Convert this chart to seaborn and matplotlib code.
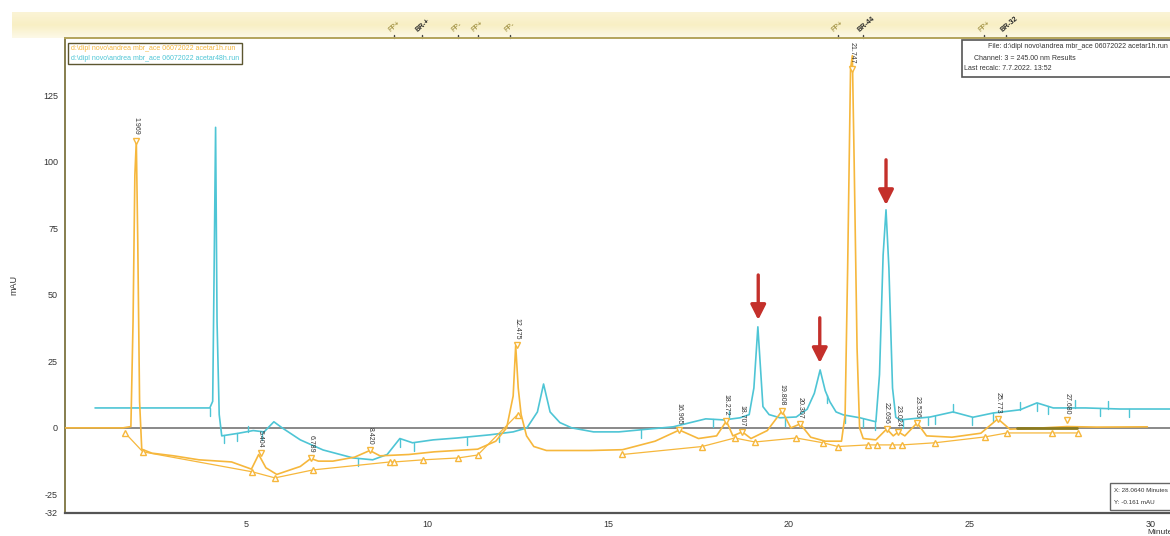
import matplotlib
matplotlib.use("Agg")
import matplotlib.pyplot as plt
import matplotlib.transforms as mtransforms
from matplotlib.patches import Rectangle
import seaborn as sns
import numpy as np
import pandas as pd

sns.set_style("white")
plt.rcParams['font.family'] = ['Liberation Sans', 'DejaVu Sans']

ORANGE = '#f6b73c'
CYAN = '#4ec5d5'
OLIVE = '#7d7440'
RED = '#c4302b'

# run acetar1h (orange): (minutes, mAU)
trace_1h = [(0, 0), (1.6, 0), (1.82, 0.5), (1.88, 40), (1.93, 95), (1.97, 108), (2.01, 70),
            (2.06, 10), (2.12, -8), (2.4, -9.5), (3.0, -10.5), (3.7, -12), (4.6, -12.8),
            (5.15, -15.5), (5.35, -10), (5.55, -15), (5.85, -17.5), (6.5, -14.5), (6.79, -11.5),
            (7.0, -12.5), (7.4, -12.5), (8.0, -11), (8.42, -8.5), (8.7, -10.5), (9.5, -10),
            (10.2, -9), (11.4, -8), (11.9, -5), (12.2, 0), (12.38, 12), (12.45, 31), (12.52, 15),
            (12.6, 5), (12.75, -3), (12.95, -7), (13.3, -8.5), (14.5, -8.5), (15.4, -8.2),
            (16.3, -5), (16.97, -0.8), (17.5, -4), (18.0, -3), (18.27, 2.6), (18.45, -3),
            (18.71, -1.5), (18.95, -4), (19.4, -1), (19.81, 6.4), (20.05, 0), (20.31, 1.5),
            (20.6, -3.5), (21.0, -5), (21.45, -5), (21.55, 5), (21.62, 60), (21.7, 135),
            (21.75, 140), (21.8, 100), (21.88, 30), (21.95, 0), (22.05, -4), (22.4, -4.5),
            (22.7, -0.4), (22.88, -3), (23.02, -1.5), (23.2, -3), (23.54, 1.9), (23.8, -3),
            (24.5, -3.5), (25.3, -2), (25.77, 3.4), (26.1, -0.5), (27.0, 0), (27.68, 0.5),
            (28.5, 0.3), (29.9, 0.4)]

# run acetar48h (cyan)
trace_48h = [(0.83, 7.5), (4.0, 7.5), (4.08, 10), (4.12, 60), (4.16, 113), (4.2, 40),
             (4.26, 5), (4.33, -3), (4.8, -2), (5.2, -1), (5.5, -1.5), (5.77, 2.3), (6.0, 0),
             (6.5, -4.5), (7.13, -8.3), (7.96, -11.3), (8.5, -12), (8.9, -10), (9.25, -4),
             (9.6, -5.6), (10.17, -4.5), (10.83, -3.8), (11.74, -2.6), (12.38, -1.5),
             (12.76, 0), (13.05, 6), (13.22, 16.5), (13.4, 6), (13.67, 2), (14.0, 0),
             (14.6, -1.5), (15.3, -1.5), (15.88, -0.75), (16.8, 0.4), (17.7, 3.4), (18.2, 3),
             (18.65, 3.8), (18.9, 5), (19.03, 15), (19.14, 38), (19.28, 8), (19.45, 5),
             (19.75, 3.8), (20.2, 4.1), (20.5, 7), (20.7, 13), (20.86, 21.8), (21.0, 14),
             (21.13, 9.8), (21.3, 6), (21.5, 4.9), (21.96, 3.8), (22.4, 2.3), (22.5, 20),
             (22.6, 65), (22.68, 82), (22.76, 60), (22.86, 15), (22.95, 4), (23.07, 3),
             (23.9, 4.1), (24.53, 6), (25.08, 4), (25.64, 5.6), (26.38, 6.8), (26.85, 9.4),
             (27.3, 7.5), (28.2, 7.5), (29.14, 7.1), (30.6, 7.1)]

# integration event ticks on the 48h trace (minutes, length in mAU)
ticks_48h = [(4.0, -3), (4.4, -3), (4.75, -3), (5.05, 2), (5.45, -3), (8.1, -3), (9.25, -3),
             (9.65, -3), (11.1, -3), (12.0, -3), (15.9, -3), (17.9, -3), (18.35, 3), (19.9, -3),
             (21.05, -3), (21.55, -3), (22.05, -3), (22.38, -3), (23.15, -3), (23.84, -3),
             (24.03, -3), (24.53, 3), (25.06, -3), (25.64, -3), (26.38, 3), (26.85, -3),
             (27.15, -3), (27.9, 3), (28.6, -3), (28.8, 3), (29.4, -3)]

# labelled peaks of the 1h run
peak_rt = [1.969, 5.404, 6.789, 8.420, 12.475, 16.965, 18.272, 18.707, 19.808, 20.307,
           21.747, 22.696, 23.024, 23.536, 25.773, 27.680]
peak_mau = [108, -9.5, -11.3, -8.3, 31, -0.75, 2.6, -1.5, 6.4, 1.5, 135, -0.4, -1.5, 1.9, 3.4, 3.0]

# baseline points of the 1h run (nan breaks the tie line)
base_t = [1.66, 2.15, 5.17, 5.8, 6.85, 8.98, 9.1, 9.9, 10.86, 11.4, 12.5, np.nan, 15.4, 17.6,
          18.5, 19.06, 20.2, 20.94, 21.35, 22.18, 22.43, 22.85, 23.12, 24.03, 25.41, 26.02,
          27.27, 27.98]
base_mau = [-1.9, -9, -16.5, -18.8, -15.8, -12.8, -12.8, -12, -11.3, -10.2, 5, np.nan, -10, -7,
            -3.8, -5.3, -3.8, -5.6, -7, -6.4, -6.4, -6.4, -6.4, -5.6, -3.4, -1.9, -1.9, -1.9]

# flat baseline segment drawn dark near the end of the 1h run
flat_base_t = [26.3, 27.95]

# timed events shown in the top bar
event_t = [9.1, 9.85, 10.85, 11.4, 12.3, 21.35, 22.05, 25.4, 26.0]
event_lbl = ['FP+', 'BR-+', 'FP-', 'FP+', 'FP-', 'FP+', 'BR-44', 'FP+', 'BR-32']
event_dark = [False, True, False, False, False, False, True, False, True]

# red arrows (minutes, tail mAU, tip mAU)
arrow_rt = [19.15, 20.85, 22.68]
arrow_tail = [57.5, 41.4, 100.8]
arrow_tip = [40.6, 24.4, 83.8]

yticks = [-32, -25, 0, 25, 50, 75, 100, 125]
xticks = [5, 10, 15, 20, 25, 30]

df1 = pd.DataFrame(trace_1h, columns=['min', 'mAU'])
df48 = pd.DataFrame(trace_48h, columns=['min', 'mAU'])

W, H = 1170, 536
fig = plt.figure(figsize=(W / 100, H / 100), dpi=100)

# top event bar with light yellow gradient
band = fig.add_axes([12 / W, (H - 38) / H, 1 - 12 / W, 26 / H])
grad = np.linspace(0, 1, 50).reshape(-1, 1)
band.imshow(grad, aspect='auto', cmap=matplotlib.colors.LinearSegmentedColormap.from_list(
    'bar', ['#fbf4d6', '#f8efc4', '#fdf9e8']), extent=[0, 1, 0, 1])
band.axis('off')

ax = fig.add_axes([65 / W, 23 / H, 1 - 65 / W, (513 - 38) / H])
ax.set_facecolor('white')

ax.axhline(0, color='#808080', lw=1.3, zorder=1)

sns.lineplot(data=df1, x='min', y='mAU', ax=ax, color=ORANGE, lw=1.2, sort=False,
             estimator=None, label='d:\\dipl novo\\andrea mbr_ace 06072022 acetar1h.run', zorder=3)
sns.lineplot(data=df48, x='min', y='mAU', ax=ax, color=CYAN, lw=1.2, sort=False,
             estimator=None, label='d:\\dipl novo\\andrea mbr_ace 06072022 acetar48h.run', zorder=2)

# event ticks on the cyan trace
for t, ln in ticks_48h:
    v = np.interp(t, df48['min'], df48['mAU'])
    ax.plot([t, t], [v, v + ln], color=CYAN, lw=1.0, zorder=2)

# baseline tie line and markers
ax.plot(base_t, base_mau, color=ORANGE, lw=0.9, zorder=3)
ax.plot(base_t, base_mau, ls='none', marker='^', ms=5, mfc='white', mec=ORANGE, mew=1.0, zorder=4)
ax.plot(flat_base_t, [0, 0], color='#8a7a20', lw=2.0, zorder=3)

# peak apex markers + retention time labels
ax.plot(peak_rt, peak_mau, ls='none', marker='v', ms=5, mfc='white', mec=ORANGE, mew=1.0, zorder=4)
for rt, v in zip(peak_rt, peak_mau):
    ax.annotate(f'{rt:.3f}', xy=(rt, v), xytext=(0, 4), textcoords='offset points',
                rotation=-90, ha='center', va='bottom', fontsize=5, color='#333333')

for t, a, b in zip(arrow_rt, arrow_tail, arrow_tip):
    ax.annotate('', xy=(t, b), xytext=(t, a),
                arrowprops=dict(arrowstyle='-|>,head_length=0.75,head_width=0.38',
                                color=RED, lw=2.4, shrinkA=0, shrinkB=0, mutation_scale=12))

ax.set_xlim(0, (W - 65) / 36.2)
ax.set_ylim(-32, 146.6)
ax.set_xticks(xticks)
ax.set_yticks(yticks)
ax.set_xticklabels([str(x) for x in xticks], fontsize=6.5, color='#333333')
ax.set_yticklabels([str(y) for y in yticks], fontsize=6.5, color='#333333')
ax.tick_params(axis='x', direction='out', length=4, width=1, color='#555555', pad=1)
ax.tick_params(axis='y', direction='out', length=3, width=1, color=OLIVE, pad=2)
ax.set_xlabel('')
ax.set_ylabel('')
ax.spines['right'].set_visible(False)
ax.spines['left'].set_color(OLIVE)
ax.spines['left'].set_linewidth(1.3)
ax.spines['bottom'].set_color('#555555')
ax.spines['bottom'].set_linewidth(1.6)
ax.spines['top'].set_color('#b4a45c')
ax.spines['top'].set_linewidth(1.4)

leg = ax.legend(loc='upper left', bbox_to_anchor=(0.0, 0.997), fontsize=5, handlelength=0,
                handletextpad=0, borderpad=0.35, labelspacing=0.35, fancybox=False,
                framealpha=1, edgecolor='#5c5630')
leg.get_frame().set_linewidth(1.0)
for h in leg.legend_handles:
    h.set_visible(False)
for txt, c in zip(leg.get_texts(), [ORANGE, CYAN]):
    txt.set_color(c)

# event labels in the top bar
bt = mtransforms.blended_transform_factory(ax.transData, fig.transFigure)
for t, lbl, dark in zip(event_t, event_lbl, event_dark):
    ax.plot([t, t], [(H - 38) / H, (H - 35) / H], transform=bt, color='#444444', lw=1,
            clip_on=False)
    ax.text(t - 0.08, (H - 34) / H, lbl, transform=bt, rotation=40, fontsize=5,
            color='#222222' if dark else '#8c7a22', fontweight='bold' if dark else 'normal',
            ha='left', va='bottom', rotation_mode='anchor', clip_on=False)

# info box top right
fig.patches.append(Rectangle((962 / W, (H - 77) / H), 0.25, 37 / H, transform=fig.transFigure,
                             facecolor='white', edgecolor='#555555', lw=1.2, zorder=5))
fig.text(988 / W, (H - 47) / H, 'File: d:\\dipl novo\\andrea mbr_ace 06072022 acetar1h.run',
         fontsize=5, color='#333333', va='center', zorder=6)
fig.text(974 / W, (H - 58) / H, 'Channel: 3 = 245.00 nm Results', fontsize=5,
         color='#333333', va='center', zorder=6)
fig.text(964 / W, (H - 69) / H, 'Last recalc: 7.7.2022. 13:52', fontsize=5,
         color='#333333', va='center', zorder=6)

# cursor box bottom right
fig.patches.append(Rectangle((1110 / W, (H - 510) / H), 0.06, 27 / H, transform=fig.transFigure,
                             facecolor='white', edgecolor='#666666', lw=1.0, zorder=5))
fig.text(1114 / W, (H - 490) / H, 'X: 28.0640 Minutes', fontsize=4.5, color='#333333',
         va='center', zorder=6)
fig.text(1114 / W, (H - 502) / H, 'Y: -0.161 mAU', fontsize=4.5, color='#333333',
         va='center', zorder=6)

fig.text(1147 / W, (H - 533) / H, 'Minutes', fontsize=6, color='#333333', va='center')
fig.text(14 / W, (H - 285) / H, 'mAU', fontsize=6.5, color='#333333', rotation=90,
         ha='center', va='center')

fig.savefig('out.png', dpi=100)
